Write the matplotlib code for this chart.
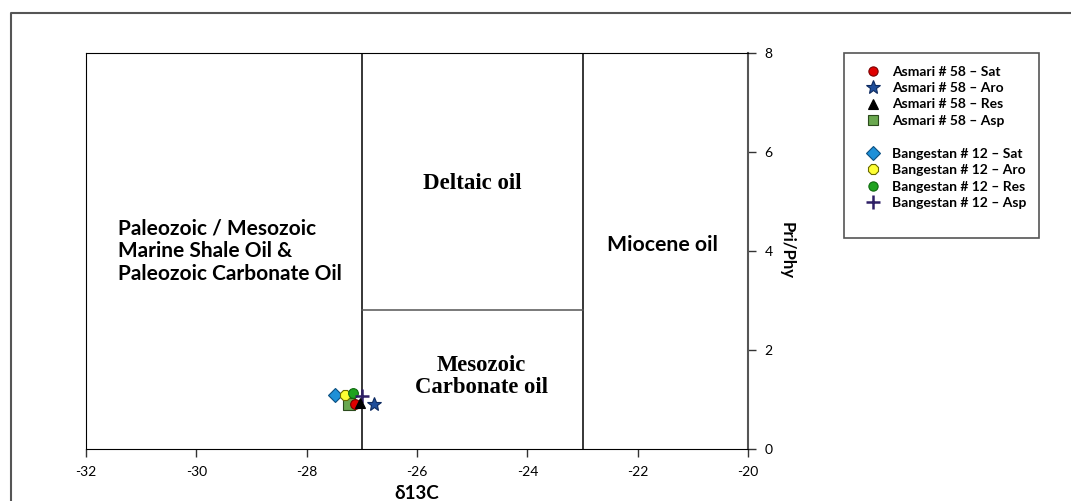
import matplotlib
matplotlib.use("Agg")
import matplotlib.pyplot as plt
from matplotlib.lines import Line2D

# sample points: delta13C vs Pri/Phy
labels = ['Asmari # 58 – Sat', 'Asmari # 58 – Aro', 'Asmari # 58 – Res', 'Asmari # 58 – Asp',
          'Bangestan # 12 – Sat', 'Bangestan # 12 – Aro', 'Bangestan # 12 – Res', 'Bangestan # 12 – Asp']
d13c = [-27.13, -26.78, -27.04, -27.23, -27.49, -27.30, -27.16, -27.00]
pri_phy = [0.91, 0.91, 0.92, 0.90, 1.09, 1.09, 1.14, 1.08]

markers = ['o', '*', '^', 's', 'D', '8', 'o', '+']
faces = ['#e00000', '#1f4e9a', '#000000', '#6aa84f', '#1e90d8', '#ffff33', '#1fa31f', '#2e1f66']
edges = ['#7a0000', '#0d2a60', '#000000', '#2b4a1d', '#0b4f80', '#6b6b00', '#0e6a0e', '#2e1f66']
sizes = [7, 10.5, 7, 8, 7, 8, 7, 10]
draw_order = [3, 4, 5, 6, 0, 7, 2, 1]

# classification field boundaries
v_lines = [-27, -23]
h_line_y = 2.8

plt.rcParams['font.family'] = ['Lato', 'DejaVu Sans']
plt.rcParams['axes.unicode_minus'] = False

fig = plt.figure(figsize=(10.71, 5.01), dpi=100)
ax = fig.add_axes([86 / 1071, 1 - 449 / 501, (748 - 86) / 1071, (449 - 53) / 501])

for i in draw_order:
    ax.plot(d13c[i], pri_phy[i], linestyle='none', marker=markers[i], markersize=sizes[i],
            markerfacecolor=faces[i], markeredgecolor=edges[i],
            markeredgewidth=1.8 if markers[i] == '+' else 0.8, color=faces[i], zorder=3)

for x in v_lines:
    ax.axvline(x, color='black', lw=1.1)
ax.plot(v_lines, [h_line_y, h_line_y], color='#555555', lw=1.1)

ax.set_xlim(-32, -20)
ax.set_ylim(0, 8)
ax.set_xticks(range(-32, -19, 2))
ax.set_yticks(range(0, 9, 2))
ax.yaxis.tick_right()
ax.yaxis.set_label_position('right')
ax.tick_params(axis='both', direction='out', length=6, width=1, labelsize=10, color='#333333')
ax.tick_params(axis='x', pad=6)
ax.tick_params(axis='y', pad=6)
for s in ['left', 'top', 'bottom']:
    ax.spines[s].set_color('black')
ax.spines['right'].set_color('#555555')
ax.spines['right'].set_linewidth(1.5)

ax.set_xlabel('δ13C', fontsize=13.5, fontweight='bold', labelpad=5)
ax.set_ylabel('Pri/Phy', fontsize=12, fontweight='bold', rotation=270, labelpad=16)

ax.text(-31.42, 4.0, 'Paleozoic / Mesozoic\nMarine Shale Oil &\nPaleozoic Carbonate Oil',
        ha='left', va='center', fontsize=15, fontweight='bold', linespacing=1.18)
ax.text(-24.99, 5.37, 'Deltaic oil', ha='center', va='center', fontsize=16.5,
        fontweight='bold', family='Liberation Serif')
ax.text(-24.83, 1.47, 'Mesozoic\nCarbonate oil', ha='center', va='center', fontsize=16.3,
        fontweight='bold', family='Liberation Serif', linespacing=1.05)
ax.text(-21.56, 4.12, 'Miocene oil', ha='center', va='center', fontsize=15.3, fontweight='bold')

# legend with a blank row between the two wells
handles = []
for i in range(8):
    handles.append(Line2D([], [], linestyle='none', marker=markers[i], markersize=sizes[i] * 0.95,
                          markerfacecolor=faces[i], markeredgecolor=edges[i],
                          markeredgewidth=1.8 if markers[i] == '+' else 0.8, color=faces[i]))
blank = Line2D([], [], linestyle='none')
leg_handles = handles[:4] + [blank] + handles[4:] + [blank]
leg_labels = labels[:4] + [' '] + labels[4:] + [' ']
leg = fig.legend(leg_handles, leg_labels, loc='upper left',
                 bbox_to_anchor=(844 / 1071, 1 - 53 / 501), borderaxespad=0,
                 fancybox=False, edgecolor='#555555', framealpha=1,
                 prop={'weight': 'bold', 'size': 10}, labelspacing=0.32,
                 handlelength=2.4, handletextpad=0.15, borderpad=0.9)
leg.get_frame().set_linewidth(1.2)

# page border (top and left)
fig.add_artist(Line2D([11 / 1071, 11 / 1071, 1.0], [0.0, 1 - 13 / 501, 1 - 13 / 501],
                      transform=fig.transFigure, color='#555555', lw=1.5))

fig.savefig('out.png', dpi=100)
